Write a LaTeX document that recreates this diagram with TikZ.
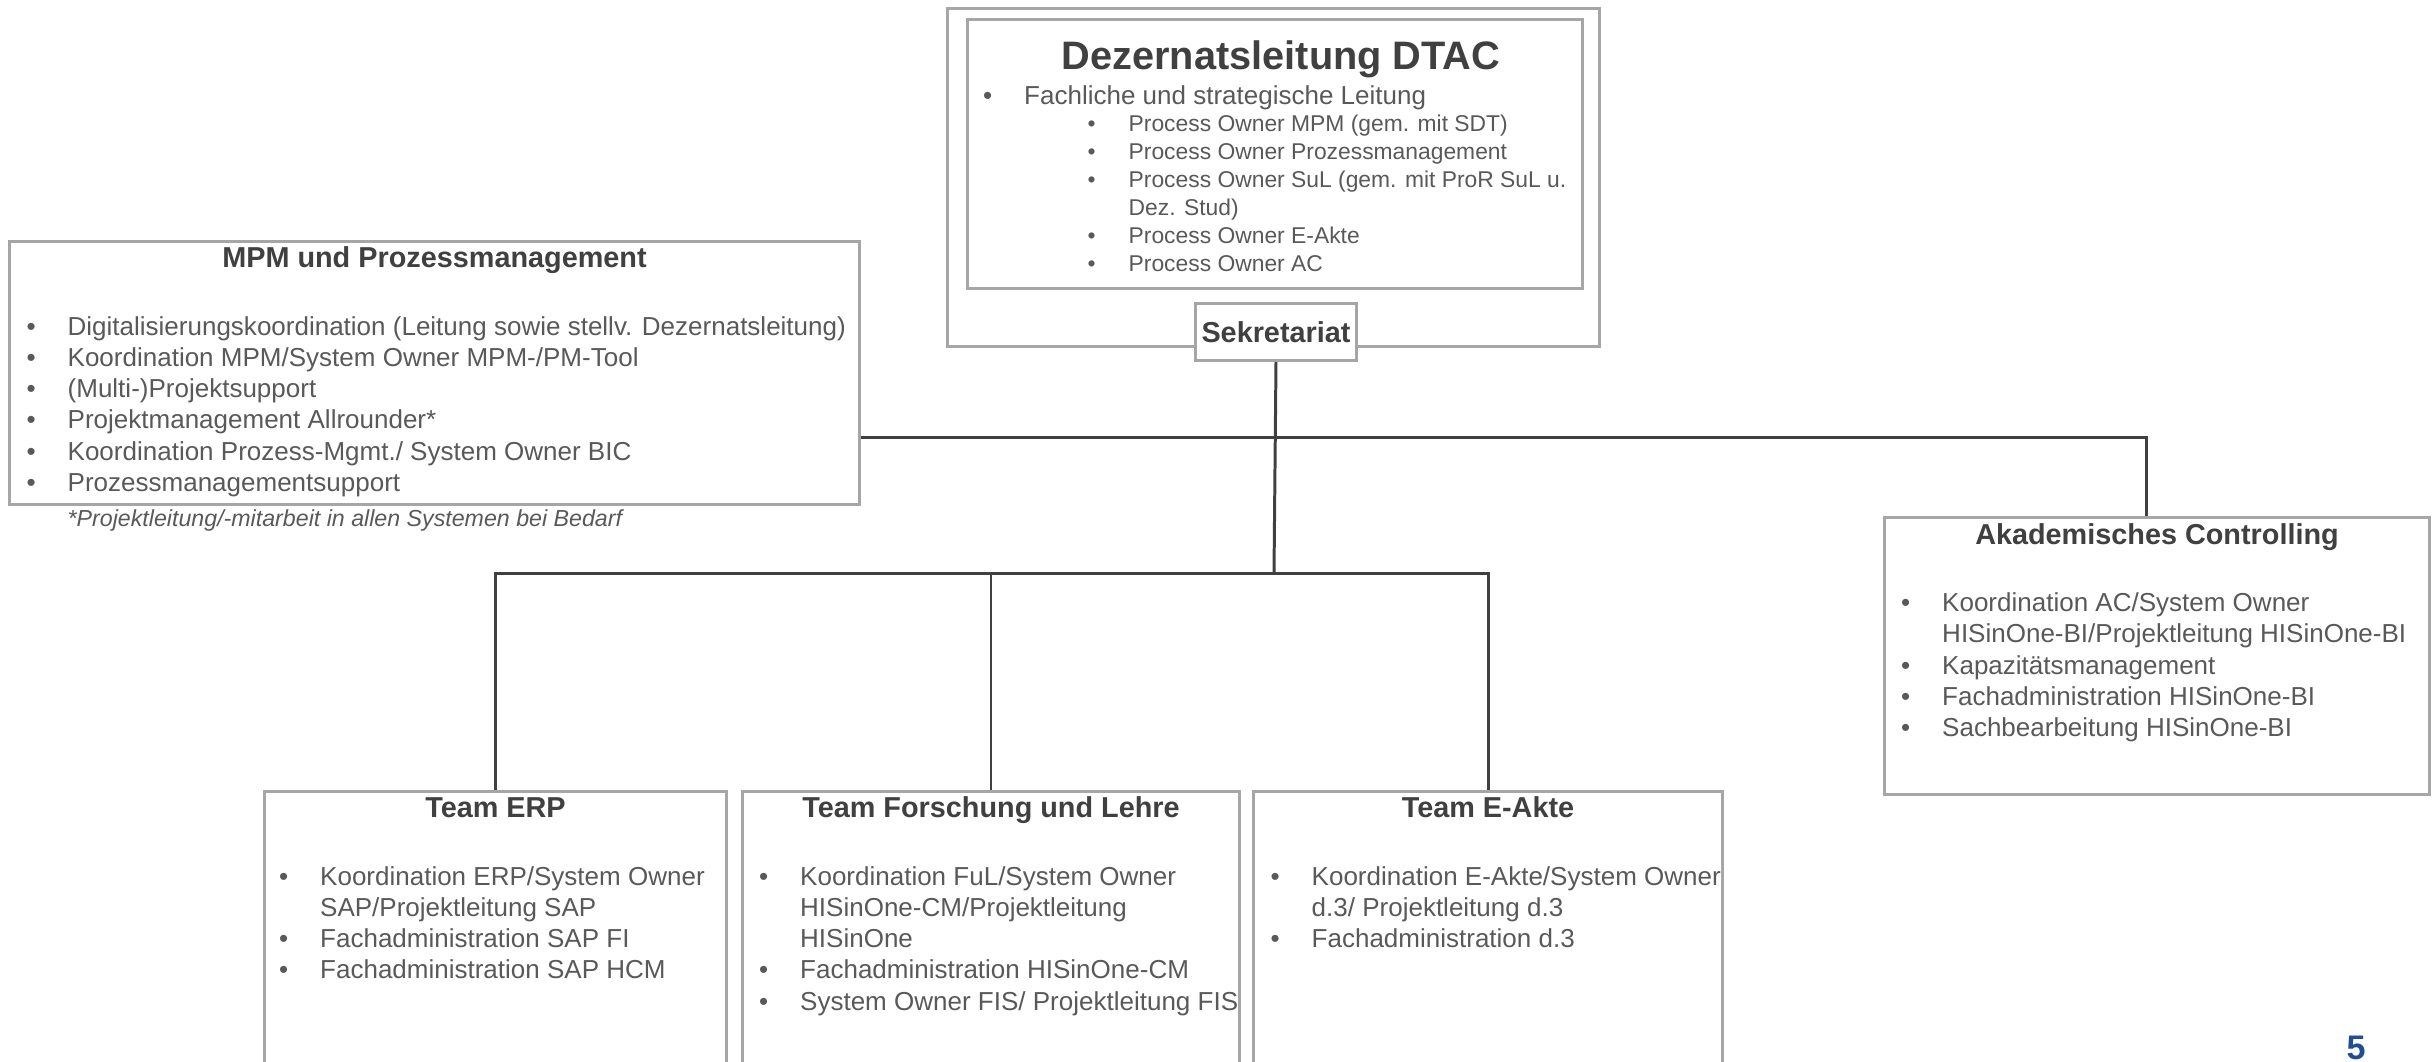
\documentclass[tikz,border=0pt]{standalone}
\usepackage{fontspec}
\setmainfont{Liberation Sans}
\usetikzlibrary{positioning}
\definecolor{boxgray}{RGB}{166,166,166}
\definecolor{linegray}{RGB}{64,64,64}
\definecolor{headgray}{RGB}{64,64,64}
\definecolor{textgray}{RGB}{89,89,89}
\definecolor{pageblue}{RGB}{31,78,145}
\newcommand{\bodysize}{\fontsize{7.4}{8.9}\selectfont}
\newcommand{\headsize}{\fontsize{8.2}{9.8}\selectfont}
\newcommand{\subsize}{\fontsize{6.5}{7.97}\selectfont}
\newcommand{\blist}[1]{\begin{tabular}[t]{@{}p{0.41cm}@{}l@{}}#1\end{tabular}}
\tikzset{
	unit/.style={draw=boxgray, line width=0.85pt, fill=white, inner sep=0pt, anchor=north west},
	head/.style={font=\headsize\bfseries, text=headgray, anchor=base, inner sep=0pt},
	items/.style={font=\bodysize, text=textgray, anchor=base west, inner sep=0pt},
	link/.style={draw=linegray, line width=0.85pt}
}

\begin{document}
\begin{tikzpicture}
	\useasboundingbox (0,0) rectangle (24.33,-10.61);
	\clip (0,0) rectangle (24.33,-10.61);
	% Dezernatsleitung
	\node[unit, minimum width=6.52cm, minimum height=3.38cm] (dtacouter) at (9.46,-0.07) {};
	\node[unit, minimum width=6.15cm, minimum height=2.69cm] (dtac) at (9.66,-0.18) {};
	\node[head, font=\fontsize{11.3}{13.5}\selectfont\bfseries] (dtachead) at ([xshift=0.06cm,yshift=-0.51cm]dtac.north) {Dezernatsleitung DTAC};
	\node[items] (dtacmain) at ([shift={(0.165,-0.86)}]dtac.north west) {\blist{\textbullet & Fachliche und strategische Leitung}};
	\node[items, font=\subsize] (dtacsub) at ([shift={(1.21,-1.13)}]dtac.north west) {\blist{
		\textbullet & Process Owner MPM (gem. mit SDT)\\
		\textbullet & Process Owner Prozessmanagement\\
		\textbullet & Process Owner SuL (gem. mit ProR SuL u.\\
		& Dez. Stud)\\
		\textbullet & Process Owner E-Akte\\
		\textbullet & Process Owner AC}};
	\node[unit, head, anchor=north west, minimum width=1.61cm, minimum height=0.57cm] (sek) at (11.94,-3.02) {Sekretariat};
	% Stabsstellen
	\node[unit, minimum width=8.50cm, minimum height=2.63cm] (mpm) at (0.08,-2.40) {};
	\node[head] (mpmhead) at ([yshift=-0.275cm]mpm.north) {MPM und Prozessmanagement};
	\node[items] (mpmlist) at ([shift={(0.18,-0.95)}]mpm.north west) {\blist{
		\textbullet & Digitalisierungskoordination (Leitung sowie stellv. Dezernatsleitung)\\
		\textbullet & Koordination MPM/System Owner MPM-/PM-Tool\\
		\textbullet & (Multi-)Projektsupport\\
		\textbullet & Projektmanagement Allrounder*\\
		\textbullet & Koordination Prozess-Mgmt./ System Owner BIC\\
		\textbullet & Prozessmanagementsupport}};
	\node[items, font=\fontsize{6.6}{8}\selectfont\itshape] (mpmnote) at ([shift={(0.59,-0.20)}]mpm.south west) {*Projektleitung/-mitarbeit in allen Systemen bei Bedarf};
	\node[unit, minimum width=5.45cm, minimum height=2.77cm] (ac) at (18.83,-5.16) {};
	\node[head] (achead) at ([yshift=-0.285cm]ac.north) {Akademisches Controlling};
	\node[items] (aclist) at ([shift={(0.175,-0.955)}]ac.north west) {\blist{
		\textbullet & Koordination AC/System Owner\\
		& HISinOne-BI/Projektleitung HISinOne-BI\\
		\textbullet & Kapazitätsmanagement\\
		\textbullet & Fachadministration HISinOne-BI\\
		\textbullet & Sachbearbeitung HISinOne-BI}};
	% Teams
	\node[unit, minimum width=4.62cm, minimum height=3.2cm] (erp) at (2.63,-7.90) {};
	\node[head] (erphead) at ([yshift=-0.275cm]erp.north) {Team ERP};
	\node[items] (erplist) at ([shift={(0.155,-0.95)}]erp.north west) {\blist{
		\textbullet & Koordination ERP/System Owner\\
		& SAP/Projektleitung SAP\\
		\textbullet & Fachadministration SAP FI\\
		\textbullet & Fachadministration SAP HCM}};
	\node[unit, minimum width=4.97cm, minimum height=3.2cm] (ful) at (7.41,-7.90) {};
	\node[head] (fulhead) at ([yshift=-0.275cm]ful.north) {Team Forschung und Lehre};
	\node[items] (fullist) at ([shift={(0.175,-0.95)}]ful.north west) {\blist{
		\textbullet & Koordination FuL/System Owner\\
		& HISinOne-CM/Projektleitung\\
		& HISinOne\\
		\textbullet & Fachadministration HISinOne-CM\\
		\textbullet & System Owner FIS/ Projektleitung FIS}};
	\node[unit, minimum width=4.69cm, minimum height=3.2cm] (eakte) at (12.52,-7.90) {};
	\node[head] (eaktehead) at ([yshift=-0.275cm]eakte.north) {Team E-Akte};
	\node[items] (eaktelist) at ([shift={(0.18,-0.95)}]eakte.north west) {\blist{
		\textbullet & Koordination E-Akte/System Owner\\
		& d.3/ Projektleitung d.3\\
		\textbullet & Fachadministration d.3}};
	% Linien
	\coordinate (hub) at (12.74,-4.37);
	\coordinate (fork) at (12.74,-5.73);
	\draw[link] (sek.south) -- (fork);
	\draw[link] (mpm.east |- hub) -- (hub) -| ([xshift=-0.11cm]ac.north);
	\draw[link] (erp.north) |- (fork) -| (eakte.north);
	\draw[link] (fork -| ful.north) -- (ful.north);
	\node[anchor=base, inner sep=0pt, font=\fontsize{9.7}{11}\selectfont\bfseries, text=pageblue] (page) at (23.56,-10.59) {5};
\end{tikzpicture}
\end{document}
